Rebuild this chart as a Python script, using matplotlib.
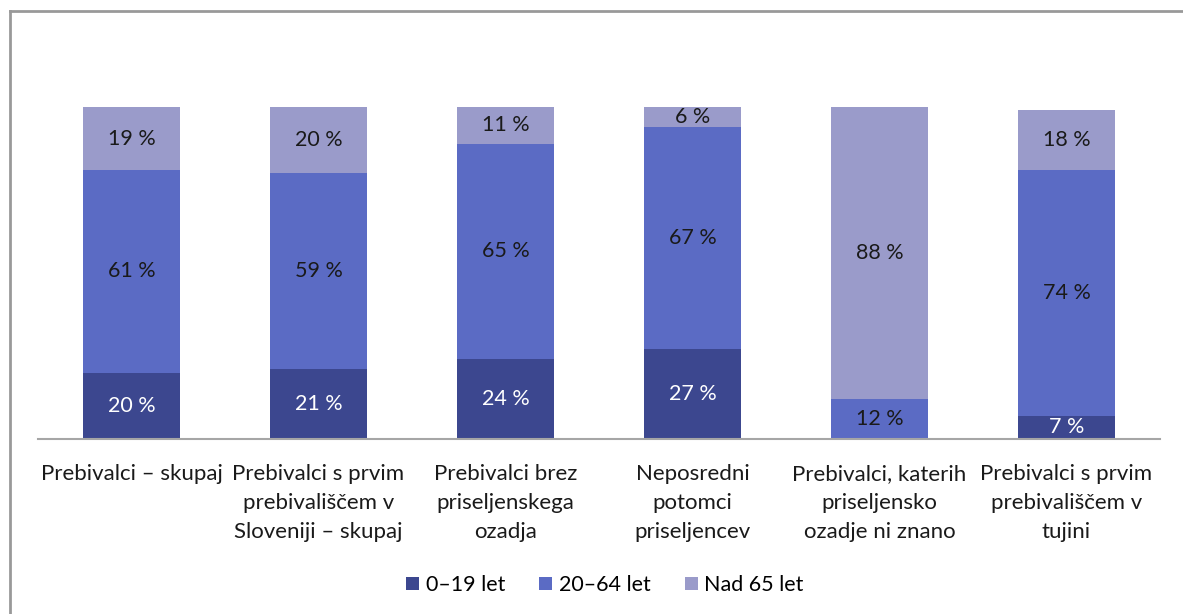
import matplotlib.pyplot as plt
import numpy as np
from matplotlib.lines import Line2D

plt.rcParams['font.family'] = ['Lato', 'DejaVu Sans']

categories = [
    'Prebivalci – skupaj',
    'Prebivalci s prvim\nprebivališčem v\nSloveniji – skupaj',
    'Prebivalci brez\npriseljenskega\nozadja',
    'Neposredni\npotomci\npriseljencev',
    'Prebivalci, katerih\npriseljensko\nozadje ni znano',
    'Prebivalci s prvim\nprebivališčem v\ntujini',
]
series_names = ['0–19 let', '20–64 let', 'Nad 65 let']
age_0_19 = [20, 21, 24, 27, 0, 7]
age_20_64 = [61, 59, 65, 67, 12, 74]
age_65 = [19, 20, 11, 6, 88, 18]

colors = ['#3c478f', '#5b6bc4', '#9a9bca']
label_colors = ['white', '#1a1a1a', '#1a1a1a']

fig = plt.figure(figsize=(11.83, 6.14), dpi=100)
ax = fig.add_axes([38 / 1183, (614 - 439) / 614, 1122 / 1183, (439 - 60) / 614])

x = np.arange(len(categories))
bottom = np.zeros(len(categories))
for name, vals, col, tcol in zip(series_names, [age_0_19, age_20_64, age_65], colors, label_colors):
    vals = np.array(vals, dtype=float)
    ax.bar(x, vals, bottom=bottom, width=0.52, color=col, label=name)
    for xi, b, v in zip(x, bottom, vals):
        if v > 0:
            ax.text(xi, b + v / 2, f'{int(v)} %', ha='center', va='center',
                    color=tcol, fontsize=15.5)
    bottom += vals

ax.set_xlim(-0.5, len(categories) - 0.5)
ax.set_ylim(0, 100 * (439 - 60) / 332)
ax.set_xticks(x)
ax.set_xticklabels(categories, fontsize=16, color='#1a1a1a', linespacing=1.55)
ax.tick_params(axis='x', length=0, pad=18)
ax.set_yticks([])
for s in ['top', 'right', 'left']:
    ax.spines[s].set_visible(False)
ax.spines['bottom'].set_color('#a6a6a6')
ax.spines['bottom'].set_linewidth(1.5)

fig.legend(loc='center', bbox_to_anchor=(605 / 1183, 1 - 585 / 614), ncol=3,
           frameon=False, fontsize=15.5, handlelength=0.6, handleheight=0.6,
           handletextpad=0.3, columnspacing=1.6)

# chart border (top and left edges visible)
fig.add_artist(Line2D([10 / 1183, 10 / 1183], [0, 1 - 11 / 614], transform=fig.transFigure,
                      color='#999999', lw=2))
fig.add_artist(Line2D([10 / 1183, 1], [1 - 11 / 614, 1 - 11 / 614], transform=fig.transFigure,
                      color='#999999', lw=2))

plt.savefig('out.png', dpi=100)
